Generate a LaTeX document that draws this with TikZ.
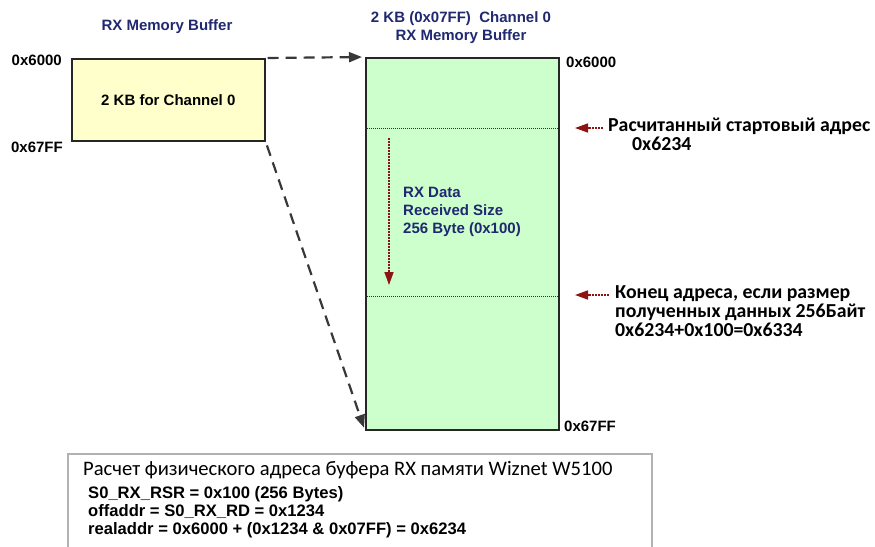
\documentclass[tikz,border=0pt]{standalone}
\usepackage{fontspec}
\setmainfont{Liberation Sans}
\newfontfamily\calfont{Carlito}
\usetikzlibrary{arrows.meta,positioning}
\definecolor{rxNavy}{RGB}{32,40,112}
\definecolor{bufYellow}{RGB}{255,255,204}
\definecolor{bufGreen}{RGB}{204,255,204}
\definecolor{markRed}{RGB}{140,20,20}
\definecolor{linkGray}{RGB}{56,56,56}

\begin{document}
\begin{tikzpicture}[x=1pt, y=-1pt,
    addr/.style={font=\bfseries\fontsize{15}{18}\selectfont, inner sep=0pt},
    navytxt/.style={font=\bfseries\fontsize{15}{18}\selectfont, text=rxNavy, inner sep=0pt, align=center},
    note/.style={font=\calfont\bfseries\fontsize{19.8}{19}\selectfont, inner sep=0pt, align=left, anchor=north west},
    membox/.style={draw=black!85, line width=1.6, anchor=north west, inner sep=0pt},
    link/.style={linkGray, line width=2.2, dash pattern=on 11 off 7, -{Triangle[length=13,width=10]}},
    ptr/.style={markRed, line width=1.6, dash pattern=on 1.8 off 1.2, -{Triangle[length=13,width=9]}}]
    \useasboundingbox (0,0) rectangle (875,546);
    % left buffer
    \node[navytxt, anchor=base] (titleL) at (167,30) {RX Memory Buffer};
    \node[membox, fill=bufYellow, minimum width=193, minimum height=82, font=\bfseries\fontsize{15}{18}\selectfont] (chan) at (71,58) {2 KB for Channel 0};
    \node[addr, anchor=base east] (topL) at (62,65.5) {0x6000};
    \node[addr, anchor=base east] (botL) at (63,152.5) {0x67FF};
    % channel 0 buffer
    \node[navytxt, anchor=north] (titleR) at (461,11.5) {2 KB (0x07FF)\ \ Channel 0\\RX Memory Buffer};
    \node[membox, fill=bufGreen, minimum width=193, minimum height=372] (ring) at (365,57) {};
    \node[addr, anchor=base west] (topR) at (566,67) {0x6000};
    \node[addr, anchor=base west] (botR) at (564,431) {0x67FF};
    \draw[black!80, line width=0.8, dash pattern=on 1 off 1] (365,128) -- (558,128);
    \draw[black!80, line width=0.8, dash pattern=on 1 off 1] (365,296) -- (558,296);
    \coordinate (rdFrom) at (389,138);
    \coordinate (rdTo) at (389,285);
    \draw[ptr] (rdFrom) -- (rdTo);
    \node[navytxt, align=left, anchor=north west] (size) at (403,186.5) {RX Data\\Received Size\\256 Byte (0x100)};
    % mapping
    \draw[link, shorten <=2, shorten >=3] (chan.north east) -- (ring.north west);
    \draw[link, shorten <=4, shorten >=3] (chan.south east) -- (ring.south west);
    % pointers
    \coordinate (startTip) at (575,128);
    \coordinate (startTail) at (603,128);
    \draw[ptr] (startTail) -- (startTip);
    \node[note] (startTxt) at (608,118) {Расчитанный стартовый адрес\\\hspace*{24pt}0x6234};
    \coordinate (endTip) at (575,295);
    \coordinate (endTail) at (609,295);
    \draw[ptr] (endTail) -- (endTip);
    \node[note, font=\calfont\bfseries\fontsize{19.8}{19.2}\selectfont] (endTxt) at (615,285) {Конец адреса, если размер\\полученных данных 256Байт\\0x6234+0x100=0x6334};
    % calculation box
    \draw[black!30, line width=1.6] (68,550) |- (652,454) -- (652,550);
    \node[note, font=\calfont\fontsize{20.6}{20}\selectfont, anchor=base west] (calcHead) at (83,475) {Расчет физического адреса буфера RX памяти Wiznet W5100};
    \node[addr, anchor=north west, align=left, font=\bfseries\fontsize{16.6}{18.2}\selectfont] (calc) at (88,486) {S0\_RX\_RSR = 0x100 (256 Bytes)\\offaddr = S0\_RX\_RD = 0x1234\\realaddr = 0x6000 + (0x1234 \& 0x07FF) = 0x6234};
\end{tikzpicture}
\end{document}
